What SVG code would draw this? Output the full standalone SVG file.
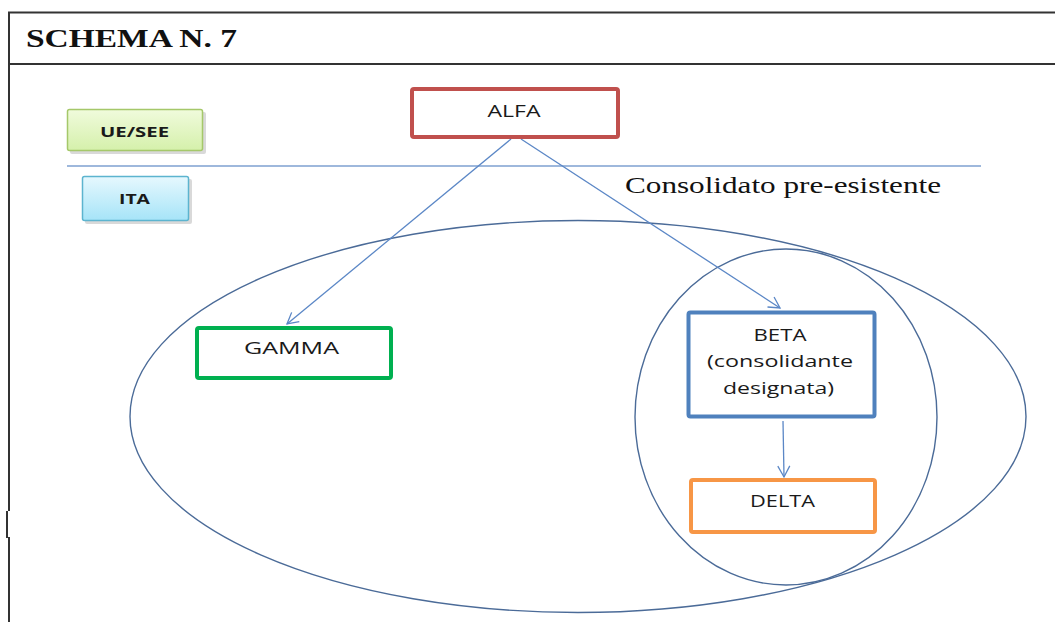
<svg xmlns="http://www.w3.org/2000/svg" width="1055" height="622" viewBox="0 0 1055 622">
<defs>
<linearGradient id="gGreen" x1="0" y1="0" x2="0" y2="1">
<stop offset="0" stop-color="#f0fbdc"/><stop offset="1" stop-color="#d5f0ab"/>
</linearGradient>
<linearGradient id="gCyan" x1="0" y1="0" x2="0" y2="1">
<stop offset="0" stop-color="#e6f8fe"/><stop offset="1" stop-color="#a6e4f8"/>
</linearGradient>
<marker id="arr" markerUnits="userSpaceOnUse" markerWidth="14" markerHeight="14" viewBox="0 0 14 14" refX="12" refY="7" orient="auto">
<path d="M1,1 L12,7 L1,13" fill="none" stroke="#5b87c6" stroke-width="1.3"/>
</marker>
<style>
.frame{stroke:#333;stroke-width:2;fill:none}
.ell{fill:none;stroke:#4b6b98;stroke-width:1.4}
.conn{stroke:#5b87c6;stroke-width:1.3;fill:none}
.sans{font-family:"Open Sans","Liberation Sans",Arial,sans-serif;fill:#1a1a1a;text-anchor:middle}
.serif{font-family:"Liberation Serif","Times New Roman",serif;fill:#111}
.box{fill:#fff;stroke-width:4}
</style>
</defs>
<rect width="1055" height="622" fill="#fff"/>
<!-- frame -->
<g id="frame">
<path class="frame" d="M9,12.5 H1055 M9,64 H1055 M9,11.5 V511"/>
<path class="frame" d="M7,511 V538"/>
<path class="frame" d="M9,537 V622"/>
</g>
<text class="serif" x="26" y="47" font-size="26" font-weight="bold" textLength="211" lengthAdjust="spacingAndGlyphs">SCHEMA N. 7</text>
<!-- legend -->
<g id="uesee">
<rect x="70" y="112" width="136" height="42" rx="2" fill="#000" opacity="0.15"/>
<rect x="67.5" y="109.5" width="135" height="41" rx="2" fill="url(#gGreen)" stroke="#a5c86a" stroke-width="1.5"/>
<text class="sans" x="134.5" y="137" font-size="15" font-weight="bold" textLength="69" lengthAdjust="spacingAndGlyphs">UE/SEE</text>
</g>
<g id="ita">
<rect x="85" y="179" width="107" height="45" rx="2" fill="#000" opacity="0.15"/>
<rect x="82.5" y="176.5" width="106" height="44" rx="2" fill="url(#gCyan)" stroke="#5cb4cf" stroke-width="1.5"/>
<text class="sans" x="134.5" y="204" font-size="15" font-weight="bold" textLength="31" lengthAdjust="spacingAndGlyphs">ITA</text>
</g>
<line x1="67" y1="166" x2="981" y2="166" stroke="#7ea1d0" stroke-width="1.5"/>
<text class="serif" x="625" y="193" font-size="23" textLength="316" lengthAdjust="spacingAndGlyphs">Consolidato pre-esistente</text>
<!-- ellipses -->
<g id="consolidato">
<ellipse class="ell" cx="578" cy="416.5" rx="448" ry="196"/>
<ellipse class="ell" cx="786" cy="417" rx="151" ry="168"/>
</g>
<!-- connectors -->
<g id="connectors">
<line class="conn" x1="511" y1="139" x2="287" y2="324" marker-end="url(#arr)"/>
<line class="conn" x1="521" y1="139" x2="780" y2="308" marker-end="url(#arr)"/>
<line class="conn" x1="783" y1="421" x2="784" y2="477" marker-end="url(#arr)"/>
</g>
<!-- nodes -->
<g id="alfa">
<rect class="box" x="412" y="89" width="206" height="48" rx="2" stroke="#c0504d"/>
<text class="sans" x="514" y="117" font-size="17" textLength="53" lengthAdjust="spacingAndGlyphs">ALFA</text>
</g>
<g id="gamma">
<rect class="box" x="197" y="328" width="194" height="50" rx="2" stroke="#00b050"/>
<text class="sans" x="291.5" y="354" font-size="17" textLength="95" lengthAdjust="spacingAndGlyphs">GAMMA</text>
</g>
<g id="beta">
<rect class="box" x="688.5" y="312.5" width="186" height="104" rx="2" stroke="#4f81bd" stroke-width="5"/>
<text class="sans" x="780" y="341" font-size="17" textLength="53" lengthAdjust="spacingAndGlyphs">BETA</text>
<text class="sans" x="780" y="367" font-size="17" textLength="146" lengthAdjust="spacingAndGlyphs">(consolidante</text>
<text class="sans" x="778.5" y="394" font-size="17" textLength="111" lengthAdjust="spacingAndGlyphs">designata)</text>
</g>
<g id="delta">
<rect class="box" x="691" y="480" width="184" height="52" rx="2" stroke="#f79646"/>
<text class="sans" x="782.5" y="507" font-size="17" textLength="65" lengthAdjust="spacingAndGlyphs">DELTA</text>
</g>
</svg>
